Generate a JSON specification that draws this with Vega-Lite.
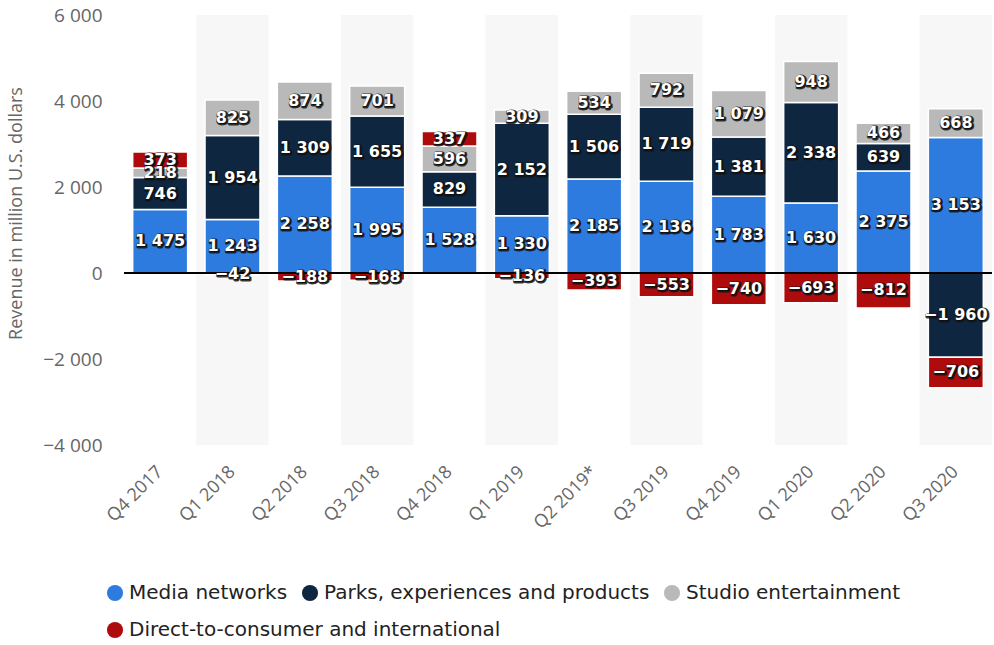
{
  "$schema": "https://vega.github.io/schema/vega-lite/v6.json",
  "width": 868,
  "height": 430,
  "autosize": {"type": "none"},
  "padding": {"left": 124, "top": 15, "right": 2, "bottom": 200},
  "background": "white",
  "config": {
    "view": {"stroke": null},
    "locale": {"number": {"decimal": ".", "thousands": " ", "grouping": [3], "currency": ["$", ""], "minus": "−"}},
    "font": "Open Sans"
  },
  "datasets": {
    "rev": [
      {"quarter": "Q4 2017", "segment": "Media networks", "order": 1, "value": 1475},
      {"quarter": "Q4 2017", "segment": "Parks, experiences and products", "order": 2, "value": 746},
      {"quarter": "Q4 2017", "segment": "Studio entertainment", "order": 3, "value": 218},
      {"quarter": "Q4 2017", "segment": "Direct-to-consumer and international", "order": 4, "value": 373},
      {"quarter": "Q1 2018", "segment": "Media networks", "order": 1, "value": 1243},
      {"quarter": "Q1 2018", "segment": "Parks, experiences and products", "order": 2, "value": 1954},
      {"quarter": "Q1 2018", "segment": "Studio entertainment", "order": 3, "value": 825},
      {"quarter": "Q1 2018", "segment": "Direct-to-consumer and international", "order": 4, "value": -42},
      {"quarter": "Q2 2018", "segment": "Media networks", "order": 1, "value": 2258},
      {"quarter": "Q2 2018", "segment": "Parks, experiences and products", "order": 2, "value": 1309},
      {"quarter": "Q2 2018", "segment": "Studio entertainment", "order": 3, "value": 874},
      {"quarter": "Q2 2018", "segment": "Direct-to-consumer and international", "order": 4, "value": -188},
      {"quarter": "Q3 2018", "segment": "Media networks", "order": 1, "value": 1995},
      {"quarter": "Q3 2018", "segment": "Parks, experiences and products", "order": 2, "value": 1655},
      {"quarter": "Q3 2018", "segment": "Studio entertainment", "order": 3, "value": 701},
      {"quarter": "Q3 2018", "segment": "Direct-to-consumer and international", "order": 4, "value": -168},
      {"quarter": "Q4 2018", "segment": "Media networks", "order": 1, "value": 1528},
      {"quarter": "Q4 2018", "segment": "Parks, experiences and products", "order": 2, "value": 829},
      {"quarter": "Q4 2018", "segment": "Studio entertainment", "order": 3, "value": 596},
      {"quarter": "Q4 2018", "segment": "Direct-to-consumer and international", "order": 4, "value": 337},
      {"quarter": "Q1 2019", "segment": "Media networks", "order": 1, "value": 1330},
      {"quarter": "Q1 2019", "segment": "Parks, experiences and products", "order": 2, "value": 2152},
      {"quarter": "Q1 2019", "segment": "Studio entertainment", "order": 3, "value": 309},
      {"quarter": "Q1 2019", "segment": "Direct-to-consumer and international", "order": 4, "value": -136},
      {"quarter": "Q2 2019*", "segment": "Media networks", "order": 1, "value": 2185},
      {"quarter": "Q2 2019*", "segment": "Parks, experiences and products", "order": 2, "value": 1506},
      {"quarter": "Q2 2019*", "segment": "Studio entertainment", "order": 3, "value": 534},
      {"quarter": "Q2 2019*", "segment": "Direct-to-consumer and international", "order": 4, "value": -393},
      {"quarter": "Q3 2019", "segment": "Media networks", "order": 1, "value": 2136},
      {"quarter": "Q3 2019", "segment": "Parks, experiences and products", "order": 2, "value": 1719},
      {"quarter": "Q3 2019", "segment": "Studio entertainment", "order": 3, "value": 792},
      {"quarter": "Q3 2019", "segment": "Direct-to-consumer and international", "order": 4, "value": -553},
      {"quarter": "Q4 2019", "segment": "Media networks", "order": 1, "value": 1783},
      {"quarter": "Q4 2019", "segment": "Parks, experiences and products", "order": 2, "value": 1381},
      {"quarter": "Q4 2019", "segment": "Studio entertainment", "order": 3, "value": 1079},
      {"quarter": "Q4 2019", "segment": "Direct-to-consumer and international", "order": 4, "value": -740},
      {"quarter": "Q1 2020", "segment": "Media networks", "order": 1, "value": 1630},
      {"quarter": "Q1 2020", "segment": "Parks, experiences and products", "order": 2, "value": 2338},
      {"quarter": "Q1 2020", "segment": "Studio entertainment", "order": 3, "value": 948},
      {"quarter": "Q1 2020", "segment": "Direct-to-consumer and international", "order": 4, "value": -693},
      {"quarter": "Q2 2020", "segment": "Media networks", "order": 1, "value": 2375},
      {"quarter": "Q2 2020", "segment": "Parks, experiences and products", "order": 2, "value": 639},
      {"quarter": "Q2 2020", "segment": "Studio entertainment", "order": 3, "value": 466},
      {"quarter": "Q2 2020", "segment": "Direct-to-consumer and international", "order": 4, "value": -812},
      {"quarter": "Q3 2020", "segment": "Media networks", "order": 1, "value": 3153},
      {"quarter": "Q3 2020", "segment": "Parks, experiences and products", "order": 2, "value": -1960},
      {"quarter": "Q3 2020", "segment": "Studio entertainment", "order": 3, "value": 668},
      {"quarter": "Q3 2020", "segment": "Direct-to-consumer and international", "order": 4, "value": -706}
    ],
    "bands": [
      {"quarter": "Q1 2018"}, {"quarter": "Q3 2018"}, {"quarter": "Q1 2019"},
      {"quarter": "Q3 2019"}, {"quarter": "Q1 2020"}, {"quarter": "Q3 2020"}
    ]
  },
  "layer": [
    {
      "data": {"name": "bands"},
      "mark": {"type": "rect", "color": "#f7f7f7"},
      "encoding": {
        "x": {"field": "quarter", "type": "nominal",
          "scale": {"domain": ["Q4 2017","Q1 2018","Q2 2018","Q3 2018","Q4 2018","Q1 2019","Q2 2019*","Q3 2019","Q4 2019","Q1 2020","Q2 2020","Q3 2020"], "paddingInner": 0, "paddingOuter": 0},
          "axis": {"title": null, "labelAngle": -45, "labelAlign": "right", "labelBaseline": "middle", "labelColor": "#666666", "labelFontSize": 18, "labelPadding": 24, "domain": false, "ticks": false}},
        "y": {"datum": 6000, "type": "quantitative",
          "scale": {"domain": [-4000, 6000], "nice": false},
          "axis": {"title": "Revenue in million U.S. dollars", "titleFontSize": 18, "titleFontWeight": "normal", "titleColor": "#666666",
            "titleX": -108, "titleY": 198, "titleAngle": -90, "titleAlign": "center", "titleBaseline": "middle",
            "values": [-4000, -2000, 0, 2000, 4000, 6000], "format": ",d", "labelColor": "#666666", "labelFontSize": 19, "labelPadding": 22,
            "domain": false, "ticks": false, "gridColor": "#d0d0d0", "gridDash": [1, 2], "gridWidth": 1}},
        "y2": {"datum": -4000}
      }
    },
    {
      "data": {"name": "rev"},
      "transform": [
        {"stack": "value", "groupby": ["quarter"], "sort": [{"field": "order", "order": "ascending"}], "as": ["v0", "v1"], "offset": "zero"},
        {"calculate": "(datum.v0 + datum.v1) / 2", "as": "mid"}
      ],
      "layer": [
        {
          "mark": {"type": "bar", "width": {"band": 0.76}, "stroke": "white", "strokeWidth": 1.5},
          "encoding": {
            "x": {"field": "quarter", "type": "nominal", "scale": {"domain": ["Q4 2017","Q1 2018","Q2 2018","Q3 2018","Q4 2018","Q1 2019","Q2 2019*","Q3 2019","Q4 2019","Q1 2020","Q2 2020","Q3 2020"], "paddingInner": 0, "paddingOuter": 0}},
            "y": {"field": "v0", "type": "quantitative"},
            "y2": {"field": "v1"},
            "color": {"field": "segment", "type": "nominal",
              "scale": {"domain": ["Media networks", "Parks, experiences and products", "Studio entertainment", "Direct-to-consumer and international"],
                "range": ["#2e7be0", "#0e2640", "#b9b9b9", "#ae0c0c"]},
              "legend": {"title": null, "orient": "none", "legendX": -19, "legendY": 568, "direction": "horizontal",
                "values": ["Media networks", "Parks, experiences and products", "Studio entertainment"],
                "symbolType": "circle", "symbolSize": 260, "symbolStrokeWidth": 0, "labelFont": "DejaVu Sans", "labelFontSize": 20, "labelColor": "#222222",
                "labelOffset": 4, "columnPadding": 12, "labelLimit": 600}}
          }
        },
        {
          "transform": [{"filter": "datum.order == 4"}],
          "mark": {"type": "point", "filled": true, "opacity": 0, "size": 1},
          "encoding": {
            "x": {"field": "quarter", "type": "nominal", "scale": {"domain": ["Q4 2017","Q1 2018","Q2 2018","Q3 2018","Q4 2018","Q1 2019","Q2 2019*","Q3 2019","Q4 2019","Q1 2020","Q2 2020","Q3 2020"], "paddingInner": 0, "paddingOuter": 0}},
            "y": {"field": "mid", "type": "quantitative"},
            "fill": {"field": "segment", "type": "nominal",
              "scale": {"domain": ["Direct-to-consumer and international"], "range": ["#ae0c0c"]},
              "legend": {"title": null, "orient": "none", "legendX": -19, "legendY": 605, "direction": "horizontal",
                "symbolType": "circle", "symbolSize": 260, "symbolOpacity": 1, "symbolStrokeWidth": 0, "labelFont": "DejaVu Sans", "labelFontSize": 20, "labelColor": "#222222",
                "labelOffset": 4, "labelLimit": 600}}
          }
        },
        {
          "mark": {"type": "rule", "color": "#000000", "strokeWidth": 1.2},
          "encoding": {"y": {"datum": 0}}
        },
        {
          "mark": {"type": "text", "font": "DejaVu Sans", "fontWeight": "bold", "fontSize": 16, "fill": "#111111", "stroke": "#111111", "strokeWidth": 3, "strokeJoin": "round", "strokeOpacity": 0.85, "dx": 1, "dy": 1, "baseline": "middle"},
          "encoding": {
            "x": {"field": "quarter", "type": "nominal", "scale": {"domain": ["Q4 2017","Q1 2018","Q2 2018","Q3 2018","Q4 2018","Q1 2019","Q2 2019*","Q3 2019","Q4 2019","Q1 2020","Q2 2020","Q3 2020"], "paddingInner": 0, "paddingOuter": 0}},
            "y": {"field": "mid", "type": "quantitative"},
            "text": {"field": "value", "type": "quantitative", "format": ",d"}
          }
        },
        {
          "mark": {"type": "text", "font": "DejaVu Sans", "fontWeight": "bold", "fontSize": 16, "fill": "white", "baseline": "middle"},
          "encoding": {
            "x": {"field": "quarter", "type": "nominal", "scale": {"domain": ["Q4 2017","Q1 2018","Q2 2018","Q3 2018","Q4 2018","Q1 2019","Q2 2019*","Q3 2019","Q4 2019","Q1 2020","Q2 2020","Q3 2020"], "paddingInner": 0, "paddingOuter": 0}},
            "y": {"field": "mid", "type": "quantitative"},
            "text": {"field": "value", "type": "quantitative", "format": ",d"}
          }
        }
      ]
    }
  ]
}
